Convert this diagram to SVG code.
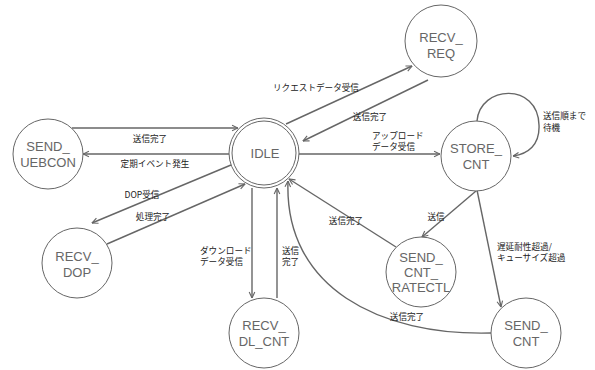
<svg xmlns="http://www.w3.org/2000/svg" width="595" height="370" viewBox="0 0 595 370">
<defs>
<marker id="arr" viewBox="0 0 10 10" refX="9.5" refY="5" markerWidth="7" markerHeight="9" markerUnits="userSpaceOnUse" orient="auto">
<path d="M1,1 L9.5,5 L1,9" fill="none" stroke="#666" stroke-width="1.6"/>
</marker>
</defs>
<style>
.node{fill:#fff;stroke:#666;stroke-width:1}
.nt{font-family:"Liberation Sans",Arial,sans-serif;font-size:13px;fill:#666;text-anchor:middle}
.edge{fill:none;stroke:#666;stroke-width:1.4;marker-end:url(#arr)}
.lb{font-family:"Noto Sans CJK JP","Noto Sans",sans-serif;font-size:8.6px;fill:#222}
.c{text-anchor:middle}
</style>
<rect width="595" height="370" fill="#fff"/>
<g id="edges">
<path class="edge" d="M72,128 L238,128"/>
<path class="edge" d="M229,154 L83,154"/>
<path class="edge" d="M286,124 L412,66"/>
<path class="edge" d="M428,80 L303,141"/>
<path class="edge" d="M299,154 L440,154"/>
<path class="edge" d="M477,121 C480,85 538,82 539,125 C540,145 528,154 513,156"/>
<path class="edge" d="M476,191 L422,237"/>
<path class="edge" d="M477,190 L501,307"/>
<path class="edge" d="M396,247 L289,179"/>
<path class="edge" d="M491,333 C380,336 284,288 288,181"/>
<path class="edge" d="M231,165 L92,223"/>
<path class="edge" d="M107,244 L245,184"/>
<path class="edge" d="M252,188 L252,298"/>
<path class="edge" d="M277,298 L277,188"/>
</g>
<g id="labels">
<text class="lb c" x="150" y="142">送信完了</text>
<text class="lb c" x="155" y="167">定期イベント発生</text>
<text class="lb c" x="316" y="91">リクエストデータ受信</text>
<text class="lb c" x="370" y="120">送信完了</text>
<text class="lb" x="372" y="139">アップロード</text>
<text class="lb" x="372" y="150">データ受信</text>
<text class="lb" x="543" y="119">送信順まで</text>
<text class="lb" x="543" y="131">待機</text>
<text class="lb c" x="142" y="198">DOP受信</text>
<text class="lb c" x="153" y="220">処理完了</text>
<text class="lb" x="200" y="254">ダウンロード</text>
<text class="lb" x="200" y="265">データ受信</text>
<text class="lb" x="282" y="254">送信</text>
<text class="lb" x="282" y="265">完了</text>
<text class="lb c" x="346" y="224">送信完了</text>
<text class="lb c" x="436" y="220">送信</text>
<text class="lb" x="497" y="250">遅延耐性超過/</text>
<text class="lb" x="497" y="261">キューサイズ超過</text>
<text class="lb c" x="407" y="320">送信完了</text>
</g>
<g id="IDLE">
<circle class="node" cx="264" cy="153" r="35"/>
<circle class="node" cx="264" cy="153" r="32"/>
<text class="nt" x="265" y="158">IDLE</text>
</g>
<g id="SEND_UEBCON">
<circle class="node" cx="48" cy="154" r="35"/>
<text class="nt" x="48" y="151">SEND_</text>
<text class="nt" x="48" y="167">UEBCON</text>
</g>
<g id="RECV_REQ">
<circle class="node" cx="441" cy="41" r="36"/>
<text class="nt" x="441" y="42">RECV_</text>
<text class="nt" x="441" y="58">REQ</text>
</g>
<g id="STORE_CNT">
<circle class="node" cx="476" cy="156" r="35"/>
<text class="nt" x="476" y="153">STORE_</text>
<text class="nt" x="476" y="169">CNT</text>
</g>
<g id="RECV_DOP">
<circle class="node" cx="77" cy="263" r="35"/>
<text class="nt" x="77" y="261">RECV_</text>
<text class="nt" x="77" y="277">DOP</text>
</g>
<g id="RECV_DL_CNT">
<circle class="node" cx="264" cy="333" r="35"/>
<text class="nt" x="264" y="330">RECV_</text>
<text class="nt" x="264" y="346">DL_CNT</text>
</g>
<g id="SEND_CNT_RATECTL">
<circle class="node" cx="421" cy="272" r="35"/>
<text class="nt" x="421" y="262">SEND_</text>
<text class="nt" x="421" y="277">CNT_</text>
<text class="nt" x="421" y="292">RATECTL</text>
</g>
<g id="SEND_CNT">
<circle class="node" cx="526" cy="333" r="35"/>
<text class="nt" x="526" y="330">SEND_</text>
<text class="nt" x="526" y="346">CNT</text>
</g>
</svg>
